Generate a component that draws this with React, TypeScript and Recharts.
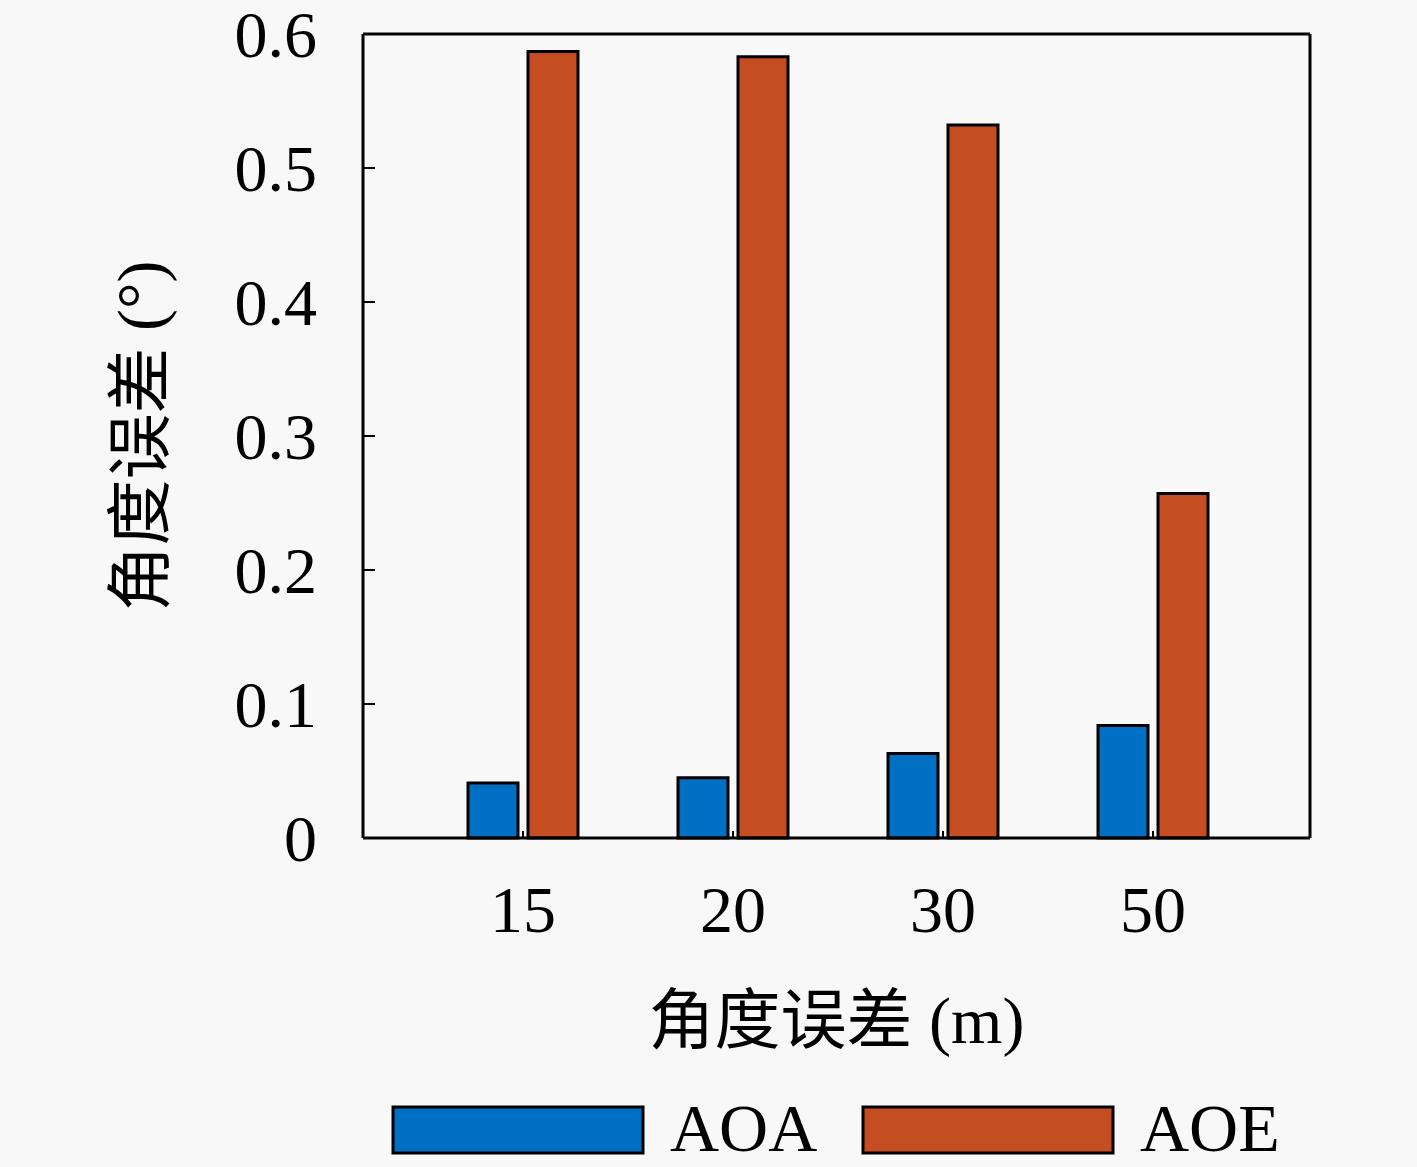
import React from "react";
import { BarChart, Bar, XAxis, YAxis, Legend, CartesianGrid } from "recharts";

const categories = ["15", "20", "30", "50"];
const aoaValues = [0.041, 0.045, 0.063, 0.084];
const aoeValues = [0.587, 0.583, 0.532, 0.257];
const yTicks = [0, 0.1, 0.2, 0.3, 0.4, 0.5, 0.6];
const seriesNames = ["AOA", "AOE"];
const seriesColors = ["#0070C4", "#C54D22"];

const data = categories.map((c, i) => ({
  cat: c,
  AOA: aoaValues[i],
  AOE: aoeValues[i],
}));

const FONT = '"Liberation Serif", "DejaVu Serif", "Noto Sans CJK SC", serif';

const YLabel = (props: any) => {
  const vb = props.viewBox;
  const cx = vb.x + 140;
  const cy = vb.y + vb.height / 2;
  return (
    <text
      x={cx}
      y={cy}
      transform={`rotate(-90, ${cx}, ${cy})`}
      textAnchor="middle"
      dominantBaseline="central"
      fontFamily={FONT}
      fontSize={66}
      fill="#000"
    >
      角度误差 (°)
    </text>
  );
};

const XLabel = (props: any) => {
  const vb = props.viewBox;
  return (
    <text
      x={vb.x + vb.width / 2}
      y={vb.y + 205}
      textAnchor="middle"
      fontFamily={FONT}
      fontSize={66}
      fill="#000"
    >
      角度误差 (m)
    </text>
  );
};

const renderLegend = () => (
  <svg width={1417} height={67} style={{ display: "block", overflow: "visible" }}>
    {seriesNames.map((name, i) => (
      <g key={name}>
        <rect
          x={393 + i * 470}
          y={7}
          width={250}
          height={46}
          fill={seriesColors[i]}
          stroke="#000"
          strokeWidth={3}
        />
        <text
          x={670 + i * 470}
          y={51}
          fontFamily={FONT}
          fontSize={68}
          fill="#000"
        >
          {name}
        </text>
      </g>
    ))}
  </svg>
);

export default function App() {
  return (
    <div style={{ width: 1417, height: 1167, background: "#f8f8f8" }}>
      <style>{`body{margin:0;background:#f8f8f8}`}</style>
      <BarChart
        width={1417}
        height={1167}
        data={data}
        margin={{ top: 34, right: 107, left: 0, bottom: 0 }}
        barSize={50}
        barGap={10}
      >
        {/* box frame: top and right edges of the plot area */}
        <CartesianGrid
          stroke="#000"
          strokeWidth={3}
          horizontalCoordinatesGenerator={({ offset }: any) => [offset.top]}
          verticalCoordinatesGenerator={({ offset }: any) => [
            offset.left + offset.width,
          ]}
        />
        <XAxis
          dataKey="cat"
          orientation="bottom"
          height={262}
          padding={{ left: 55, right: 52 }}
          axisLine={{ stroke: "#000", strokeWidth: 3 }}
          tickLine={{ stroke: "#000", strokeWidth: 2 }}
          tickSize={-7}
          tickMargin={54}
          tick={{ fill: "#000", fontSize: 66, fontFamily: FONT }}
          label={<XLabel />}
        />
        <YAxis
          width={363}
          domain={[0, 0.6]}
          ticks={yTicks}
          interval={0}
          tickFormatter={(v: number) => (v === 0 ? "0" : v.toFixed(1))}
          axisLine={{ stroke: "#000", strokeWidth: 3 }}
          tickLine={{ stroke: "#000", strokeWidth: 2 }}
          tickSize={-12}
          tickMargin={58}
          tick={{ fill: "#000", fontSize: 66, fontFamily: FONT }}
          label={<YLabel />}
        />
        <Legend
          verticalAlign="bottom"
          content={renderLegend}
          wrapperStyle={{ left: 0, width: 1417, height: 67 }}
        />
        {seriesNames.map((name, i) => (
          <Bar
            key={name}
            dataKey={name}
            fill={seriesColors[i]}
            stroke="#000"
            strokeWidth={3}
            isAnimationActive={false}
          />
        ))}
      </BarChart>
    </div>
  );
}
